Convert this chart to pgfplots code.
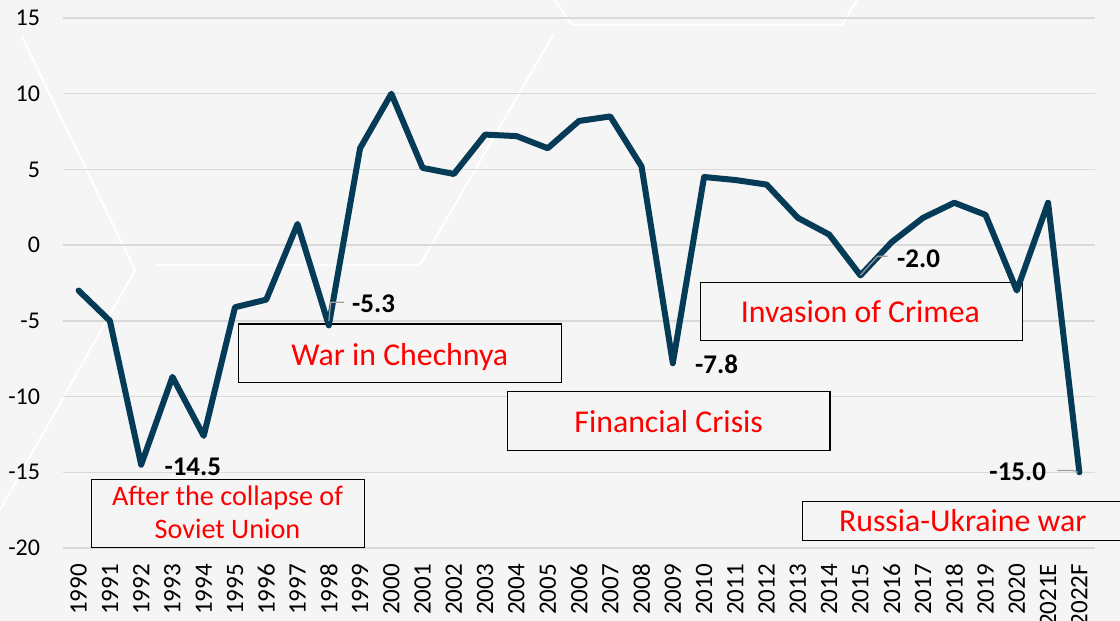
\documentclass[border=0pt]{standalone}
\usepackage{pgfplots}
\pgfplotsset{compat=1.18}
\usepackage{fontspec}
\setmainfont{Carlito}
\definecolor{bg}{RGB}{245,245,245}
\definecolor{navy}{RGB}{6,59,87}
\definecolor{gridgray}{RGB}{217,217,217}
\definecolor{annred}{RGB}{255,0,0}
\definecolor{leader}{RGB}{160,160,160}

\begin{document}
\begin{tikzpicture}
% page = 1120x621 px at 0.5pt per px, axis box corner at the origin
\useasboundingbox (-31.5pt,-36.5pt) rectangle (528.5pt,274pt);
\clip (-31.5pt,-36.5pt) rectangle (528.5pt,274pt);
\fill[bg] (-31.5pt,-36.5pt) rectangle (528.5pt,274pt);
% faint background hexagon outlines
\draw[white, line width=1pt, line join=round] (-20.5pt,255.5pt) -- (36pt,139pt) -- (-31.5pt,19pt);
\draw[white, line width=1pt, line join=round] (46pt,141.5pt) -- (178.5pt,141.5pt) -- (245pt,256.5pt);
\draw[white, line width=1pt, line join=round] (246pt,274pt) -- (254.5pt,261.5pt) -- (389.5pt,261.5pt) -- (397pt,274pt);

\begin{axis}[
  at={(0pt,0pt)}, anchor=south west,
  width=516pt, height=265pt, scale only axis,
  xmin=-0.5, xmax=32.5,
  ymin=-20, ymax=15,
  clip=false,
  axis line style={draw=none},
  tick style={draw=none},
  ytick={-20,-15,...,15},
  xtick={0,...,32},
  xticklabels={1990,1991,1992,1993,1994,1995,1996,1997,1998,1999,2000,2001,2002,2003,2004,2005,2006,2007,2008,2009,2010,2011,2012,2013,2014,2015,2016,2017,2018,2019,2020,2021E,2022F},
  ymajorgrids,
  grid style={gridgray, line width=0.7pt},
  /pgf/number format/assume math mode=true,
  yticklabel style={font=\fontsize{12}{14}\selectfont, anchor=east, xshift=-8pt},
  xticklabel style={font=\fontsize{12.5}{14}\selectfont, rotate=90, anchor=east},
  xticklabel shift=4.5pt,
]

% event boxes
\draw[black, line width=0.7pt, fill=bg] (axis cs:0.42,-15.48) rectangle (axis cs:9.15,-19.97);
\draw[black, line width=0.7pt, fill=bg] (axis cs:5.12,-5.22) rectangle (axis cs:15.45,-9.06);
\draw[black, line width=0.7pt, fill=bg] (axis cs:13.72,-9.66) rectangle (axis cs:24.02,-13.56);
\draw[black, line width=0.7pt, fill=bg] (axis cs:19.89,-2.45) rectangle (axis cs:30.19,-6.28);
\draw[black, line width=0.7pt, fill=bg] (axis cs:23.15,-16.93) rectangle (axis cs:33.8,-19.51);

\node[annred, anchor=base, font=\fontsize{14.1}{17}\selectfont] at (axis cs:4.76,-17.2) {After the collapse of};
\node[annred, anchor=base, font=\fontsize{14.1}{17}\selectfont] at (axis cs:4.76,-19.38) {Soviet Union};
\node[annred, anchor=base, font=\fontsize{15.9}{18}\selectfont] at (axis cs:10.27,-7.94) {War in Chechnya};
\node[annred, anchor=base, font=\fontsize{15.9}{18}\selectfont] at (axis cs:18.87,-12.37) {Financial Crisis};
\node[annred, anchor=base, font=\fontsize{15.9}{18}\selectfont] at (axis cs:25.0,-5.09) {Invasion of Crimea};
\node[annred, anchor=base, font=\fontsize{15.9}{18}\selectfont] at (axis cs:28.27,-18.92) {Russia-Ukraine war};

% real GDP growth, %
\addplot[navy, line width=3pt, line join=round, line cap=round] coordinates {
  (0,-3.0) (1,-5.0) (2,-14.5) (3,-8.7) (4,-12.6) (5,-4.1) (6,-3.6) (7,1.4)
  (8,-5.3) (9,6.4) (10,10.0) (11,5.1) (12,4.7) (13,7.3) (14,7.2) (15,6.4)
  (16,8.2) (17,8.5) (18,5.2) (19,-7.8) (20,4.5) (21,4.3) (22,4.0) (23,1.8)
  (24,0.7) (25,-2.0) (26,0.2) (27,1.8) (28,2.8) (29,2.0) (30,-3.0) (31,2.8)
  (32,-15.0)
};

% leader lines
\draw[leader, line width=0.6pt] (axis cs:8.0,-5.0) -- (axis cs:8.06,-3.77) -- (axis cs:8.48,-3.77);
\draw[leader, line width=0.6pt] (axis cs:25.0,-1.98) -- (axis cs:25.55,-0.73) -- (axis cs:25.87,-0.73);
\draw[leader, line width=0.6pt] (axis cs:31.95,-15.0) to[out=150,in=0] (axis cs:31.75,-14.88) -- (axis cs:31.3,-14.88);

% data labels
\node[anchor=base, font=\bfseries\fontsize{13.5}{15}\selectfont] at (axis cs:3.65,-15.21) {-14.5};
\node[anchor=base, font=\bfseries\fontsize{13.5}{15}\selectfont] at (axis cs:9.43,-4.43) {-5.3};
\node[anchor=base, font=\bfseries\fontsize{13.5}{15}\selectfont] at (axis cs:20.40,-8.47) {-7.8};
\node[anchor=base, font=\bfseries\fontsize{13.5}{15}\selectfont] at (axis cs:26.86,-1.46) {-2.0};
\node[anchor=base, font=\bfseries\fontsize{13.5}{15}\selectfont] at (axis cs:30.03,-15.54) {-15.0};

\end{axis}
\end{tikzpicture}
\end{document}
